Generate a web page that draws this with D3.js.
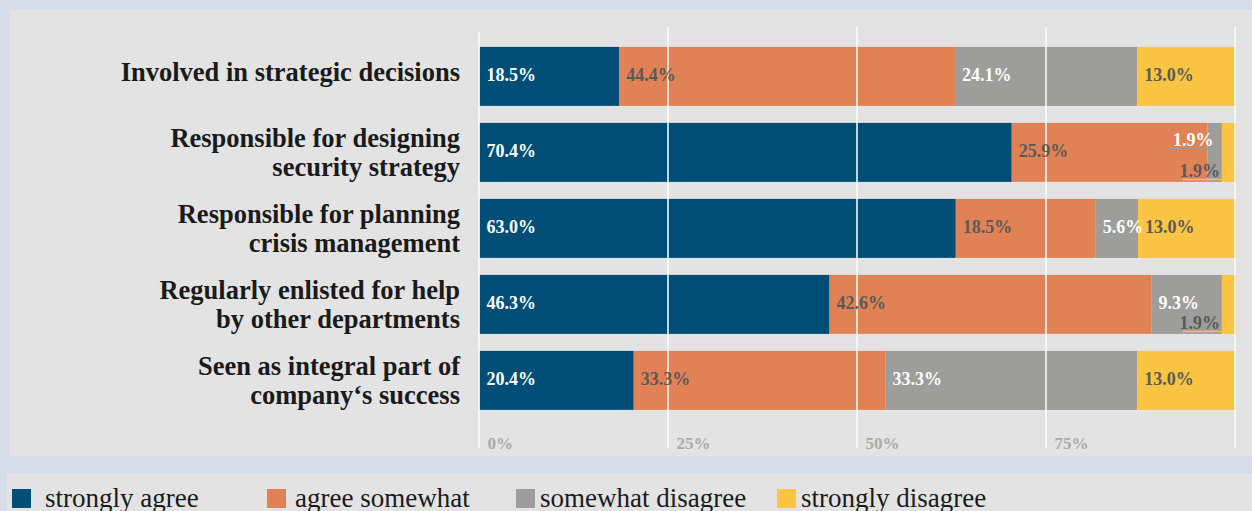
<!DOCTYPE html>
<html>
<head>
<meta charset="utf-8">
<script src="https://cdn.jsdelivr.net/npm/d3@7/dist/d3.min.js"></script>
<style>
  html, body { margin: 0; padding: 0; background: #d6dde8; }
  svg { display: block; }
</style>
</head>
<body>
<svg id="chart" width="1252" height="511"></svg>
<script>
// Survey statements (each entry is a list of lines)
const categories = [
  ["Involved in strategic decisions"],
  ["Responsible for designing", "security strategy"],
  ["Responsible for planning", "crisis management"],
  ["Regularly enlisted for help", "by other departments"],
  ["Seen as integral part of", "company\u2018s success"]
];

// Share of answers per statement, in percent
const stronglyAgree     = [18.5, 70.4, 63.0, 46.3, 20.4];
const agreeSomewhat     = [44.4, 25.9, 18.5, 42.6, 33.3];
const somewhatDisagree  = [24.1, 1.9, 5.6, 9.3, 33.3];
const stronglyDisagree  = [13.0, 1.9, 13.0, 1.9, 13.0];

const seriesNames = ["strongly agree", "agree somewhat", "somewhat disagree", "strongly disagree"];
const tickValues = [0, 25, 50, 75];
const gridValues = [0, 25, 50, 75, 100];

const colors = ["#004d76", "#e08255", "#9d9d9b", "#fbc443"];
const labelColors = ["#ffffff", "#5a5a5a", "#ffffff", "#5a5a5a"];

const serif = "'Liberation Serif', 'Times New Roman', serif";

const svg = d3.select("#chart");

// panels
svg.append("rect").attr("x", 10).attr("y", 10).attr("width", 1242).attr("height", 446).attr("fill", "#e3e3e3");
svg.append("rect").attr("x", 7).attr("y", 474).attr("width", 1245).attr("height", 37).attr("fill", "#e3e3e3");

const x = d3.scaleLinear().domain([0, 100]).range([479.5, 1235.5]);
const y = d3.scaleBand().domain(d3.range(categories.length)).range([46.9, 409.9]).paddingInner(0.2237).paddingOuter(0);

const rows = categories.map((c, i) => ({
  idx: i,
  s0: stronglyAgree[i], s1: agreeSomewhat[i], s2: somewhatDisagree[i], s3: stronglyDisagree[i]
}));
const stack = d3.stack().keys(["s0", "s1", "s2", "s3"]);
const stacked = stack(rows);

// bars
const barG = svg.append("g");
stacked.forEach((layer, k) => {
  barG.selectAll(null).data(layer).enter().append("rect")
    .attr("x", d => x(d[0]))
    .attr("y", d => y(d.data.idx))
    .attr("width", d => x(d[1]) - x(d[0]))
    .attr("height", y.bandwidth())
    .attr("fill", colors[k]);
});

// vertical grid lines drawn over the bars
svg.append("g").selectAll("line").data(gridValues).enter().append("line")
  .attr("x1", d => x(d) - 0.5).attr("x2", d => x(d) - 0.5)
  .attr("y1", d => d === 0 ? 32 : 27).attr("y2", 448)
  .attr("stroke", "#ffffff").attr("stroke-width", 1.6).attr("opacity", 0.95);

// axis tick labels
svg.append("g").selectAll("text").data(tickValues).enter().append("text")
  .attr("x", d => x(d) + 8).attr("y", 449)
  .attr("font-family", serif).attr("font-weight", "bold").attr("font-size", 17)
  .attr("fill", "#ababab")
  .text(d => d + "%");

// category labels
const catG = svg.append("g");
categories.forEach((lines, i) => {
  const cy = y(i) + y.bandwidth() / 2;
  const first = lines.length === 1 ? cy + 4.5 : cy - 5;
  const t = catG.append("text")
    .attr("text-anchor", "end")
    .attr("font-family", serif).attr("font-weight", "bold").attr("font-size", 26.5)
    .attr("fill", "#1a1a1a");
  lines.forEach((ln, j) => {
    t.append("tspan").attr("x", 460).attr("y", first + j * 28.3).text(ln);
  });
});

// value labels
const labG = svg.append("g");
const fmt = d3.format(".1f");
const valueSize = 18;
stacked.forEach((layer, k) => {
  layer.forEach(d => {
    const v = d[1] - d[0];
    const top = y(d.data.idx);
    const cy = top + y.bandwidth() / 2;
    const segStart = x(d[0]);
    const txt = fmt(v) + "%";
    if (v < 3) {
      // narrow segment: label pushed outside with a leader line
      let tx, ty, leadY, leadFrom;
      if (k === 2) {
        tx = segStart + 6; ty = cy - 6.5; leadY = ty + 2; leadFrom = segStart - 40;
      } else {
        tx = segStart - 2; ty = top + y.bandwidth() - 5; leadY = ty + 2.5; leadFrom = segStart - 39;
      }
      labG.append("line")
        .attr("x1", leadFrom).attr("x2", segStart)
        .attr("y1", leadY).attr("y2", leadY)
        .attr("stroke", colors[k]).attr("stroke-width", 1.5);
      labG.append("text")
        .attr("x", tx).attr("y", ty).attr("text-anchor", "end")
        .attr("font-family", serif).attr("font-weight", "bold").attr("font-size", valueSize)
        .attr("fill", labelColors[k])
        .text(txt);
    } else {
      labG.append("text")
        .attr("x", segStart + 7).attr("y", cy + 5)
        .attr("font-family", serif).attr("font-weight", "bold").attr("font-size", valueSize)
        .attr("fill", labelColors[k])
        .text(txt);
    }
  });
});

// legend
const legendX = [12, 267, 516, 777];
const legG = svg.append("g");
seriesNames.forEach((name, k) => {
  legG.append("rect").attr("x", legendX[k]).attr("y", 489).attr("width", 19).attr("height", 19).attr("fill", colors[k]);
  legG.append("text")
    .attr("x", legendX[k] + (k === 0 ? 33 : k === 1 ? 28 : 24)).attr("y", 507)
    .attr("font-family", serif).attr("font-size", 27)
    .attr("fill", "#1a1a1a")
    .text(name);
});
</script>
</body>
</html>
